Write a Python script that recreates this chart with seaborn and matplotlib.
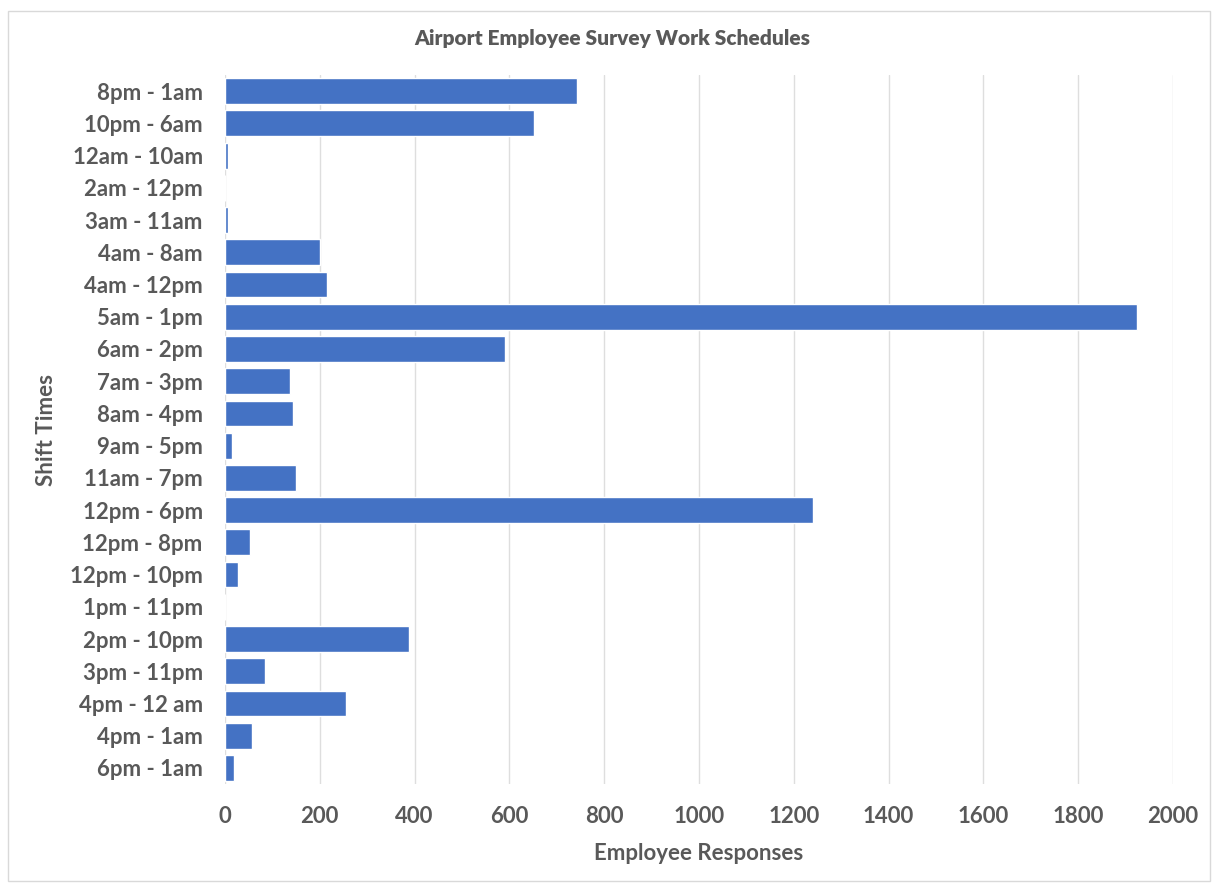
import matplotlib
matplotlib.use("Agg")
import matplotlib.pyplot as plt
import seaborn as sns
import pandas as pd

# Shift times and number of employee responses
shifts = ["8pm - 1am", "10pm - 6am", "12am - 10am", "2am - 12pm", "3am - 11am",
          "4am - 8am", "4am - 12pm", "5am - 1pm", "6am - 2pm", "7am - 3pm",
          "8am - 4pm", "9am - 5pm", "11am - 7pm", "12pm - 6pm", "12pm - 8pm",
          "12pm - 10pm", "1pm - 11pm", "2pm - 10pm", "3pm - 11pm", "4pm - 12 am",
          "4pm - 1am", "6pm - 1am"]
responses = [742, 651, 6, 0, 6,
             201, 216, 1924, 591, 138,
             143, 15, 150, 1241, 52,
             28, 0, 388, 85, 255,
             57, 20]

df = pd.DataFrame({"Shift Times": shifts, "Employee Responses": responses})

sns.set_style("white")
plt.rcParams["font.family"] = ["Lato", "DejaVu Sans"]

text_color = "#595959"
bar_color = "#4472C4"

fig = plt.figure(figsize=(12.14, 8.86), dpi=100)
ax = fig.add_axes([0.1853, 0.1151, 0.7809, 0.8002])

sns.barplot(data=df, x="Employee Responses", y="Shift Times", orient="h",
            color=bar_color, width=0.8, saturation=1, ax=ax, zorder=3)

ax.set_xlim(0, 2000)
ax.set_xticks(range(0, 2001, 200))
ax.grid(axis="x", color="#dedede", linewidth=1.0, zorder=0)
ax.grid(axis="y", visible=False)
for s in ax.spines.values():
    s.set_visible(False)
ax.tick_params(axis="both", length=0, colors=text_color, labelsize=16)
ax.tick_params(axis="y", pad=16)
ax.tick_params(axis="x", pad=16)
for lbl in ax.get_xticklabels() + ax.get_yticklabels():
    lbl.set_fontweight("bold")

ax.set_xlabel("Employee Responses", fontsize=16, fontweight="bold",
              color=text_color, labelpad=11)
ax.set_ylabel("Shift Times", fontsize=16, fontweight="bold",
              color=text_color, labelpad=9)

fig.suptitle("Airport Employee Survey Work Schedules", x=0.504, y=0.967,
             fontsize=15, fontweight="heavy", color=text_color)

# light chart-area border like the spreadsheet export
border = plt.Rectangle((0.007, 0.006), 0.99, 0.982, transform=fig.transFigure,
                       fill=False, edgecolor="#d9d9d9", linewidth=1)
fig.patches.append(border)

fig.savefig("out.png", dpi=100)
